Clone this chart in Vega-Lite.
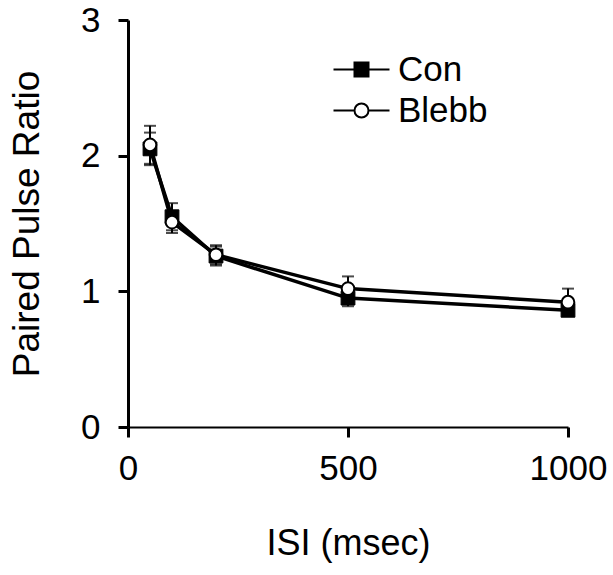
{
  "$schema": "https://vega.github.io/schema/vega-lite/v6.json",
  "autosize": {"type": "none"},
  "padding": {"left": 128, "top": 20, "right": 45, "bottom": 148},
  "width": 440,
  "height": 407,
  "background": "white",
  "config": {
    "view": {"stroke": null},
    "font": "Liberation Sans",
    "axis": {"grid": false, "domainColor": "black", "tickColor": "black", "labelColor": "black", "titleColor": "black", "titleFontWeight": "normal", "labelFont": "Liberation Sans", "titleFont": "Liberation Sans"},
    "legend": {"labelFont": "Liberation Sans"}
  },
  "data": {
    "values": [
      {"group": "Con", "isi": 50, "mean": 2.05, "sem": 0.12},
      {"group": "Con", "isi": 100, "mean": 1.55, "sem": 0.10},
      {"group": "Con", "isi": 200, "mean": 1.26, "sem": 0.07},
      {"group": "Con", "isi": 500, "mean": 0.95, "sem": 0.06},
      {"group": "Con", "isi": 1000, "mean": 0.86, "sem": 0.03},
      {"group": "Blebb", "isi": 50, "mean": 2.08, "sem": 0.14},
      {"group": "Blebb", "isi": 100, "mean": 1.51, "sem": 0.08},
      {"group": "Blebb", "isi": 200, "mean": 1.27, "sem": 0.07},
      {"group": "Blebb", "isi": 500, "mean": 1.02, "sem": 0.09},
      {"group": "Blebb", "isi": 1000, "mean": 0.92, "sem": 0.10}
    ]
  },
  "encoding": {
    "x": {
      "field": "isi", "type": "quantitative",
      "scale": {"domain": [0, 1000], "nice": false, "zero": false},
      "axis": {"values": [0, 500, 1000], "format": "d", "title": "ISI (msec)", "domainWidth": 2, "tickWidth": 3, "tickSize": 10, "labelFontSize": 35, "labelPadding": 14, "titleFontSize": 36, "titlePadding": 40, "labelFlush": false}
    }
  },
  "layer": [
    {
      "mark": {"type": "errorbar", "ticks": {"size": 12, "thickness": 2, "color": "black"}, "rule": {"strokeWidth": 2, "color": "black"}},
      "encoding": {
        "y": {"field": "mean", "type": "quantitative", "scale": {"domain": [0, 3], "nice": false}, "axis": {"values": [0, 1, 2, 3], "format": "d", "title": "Paired Pulse Ratio", "domainWidth": 3, "tickWidth": 3, "tickSize": 10, "labelFontSize": 35, "labelPadding": 18, "titleFontSize": 37, "titlePadding": 34}},
        "yError": {"field": "sem"},
        "detail": {"field": "group"}
      }
    },
    {
      "mark": {"type": "line", "color": "black", "strokeWidth": 3.5},
      "encoding": {
        "y": {"field": "mean", "type": "quantitative"},
        "detail": {"field": "group"}
      }
    },
    {
      "transform": [{"filter": "datum.group === 'Con'"}],
      "mark": {"type": "point", "shape": "square", "filled": true, "fill": "black", "stroke": "black", "strokeWidth": 1, "opacity": 1, "size": 190},
      "encoding": {
        "y": {"field": "mean", "type": "quantitative"}
      }
    },
    {
      "transform": [{"filter": "datum.group === 'Blebb'"}],
      "mark": {"type": "point", "shape": "circle", "filled": true, "fill": "white", "stroke": "black", "strokeWidth": 2, "opacity": 1, "size": 160},
      "encoding": {
        "y": {"field": "mean", "type": "quantitative"}
      }
    },
    {
      "transform": [{"filter": "false"}],
      "mark": {"type": "point", "filled": true, "strokeWidth": 2, "size": 196},
      "encoding": {
        "y": {"field": "mean", "type": "quantitative"},
        "shape": {"field": "group", "type": "nominal", "scale": {"domain": ["Con", "Blebb"], "range": ["M-4,0H-1M1,0H4M-1,-1H1V1H-1Z", "M-4,0H-1M1,0H4M-1,0A1,1,0,1,1,1,0A1,1,0,1,1,-1,0Z"]}, "legend": {
          "title": null, "orient": "none", "legendX": 216, "legendY": 32, "labelFontSize": 35, "labelColor": "black", "symbolSize": 196, "symbolStrokeWidth": 2, "symbolOpacity": 1, "labelOffset": 19, "rowPadding": 5
        }},
        "fill": {"field": "group", "type": "nominal", "scale": {"domain": ["Con", "Blebb"], "range": ["black", "white"]}},
        "stroke": {"field": "group", "type": "nominal", "scale": {"domain": ["Con", "Blebb"], "range": ["black", "black"]}}
      }
    }
  ]
}
